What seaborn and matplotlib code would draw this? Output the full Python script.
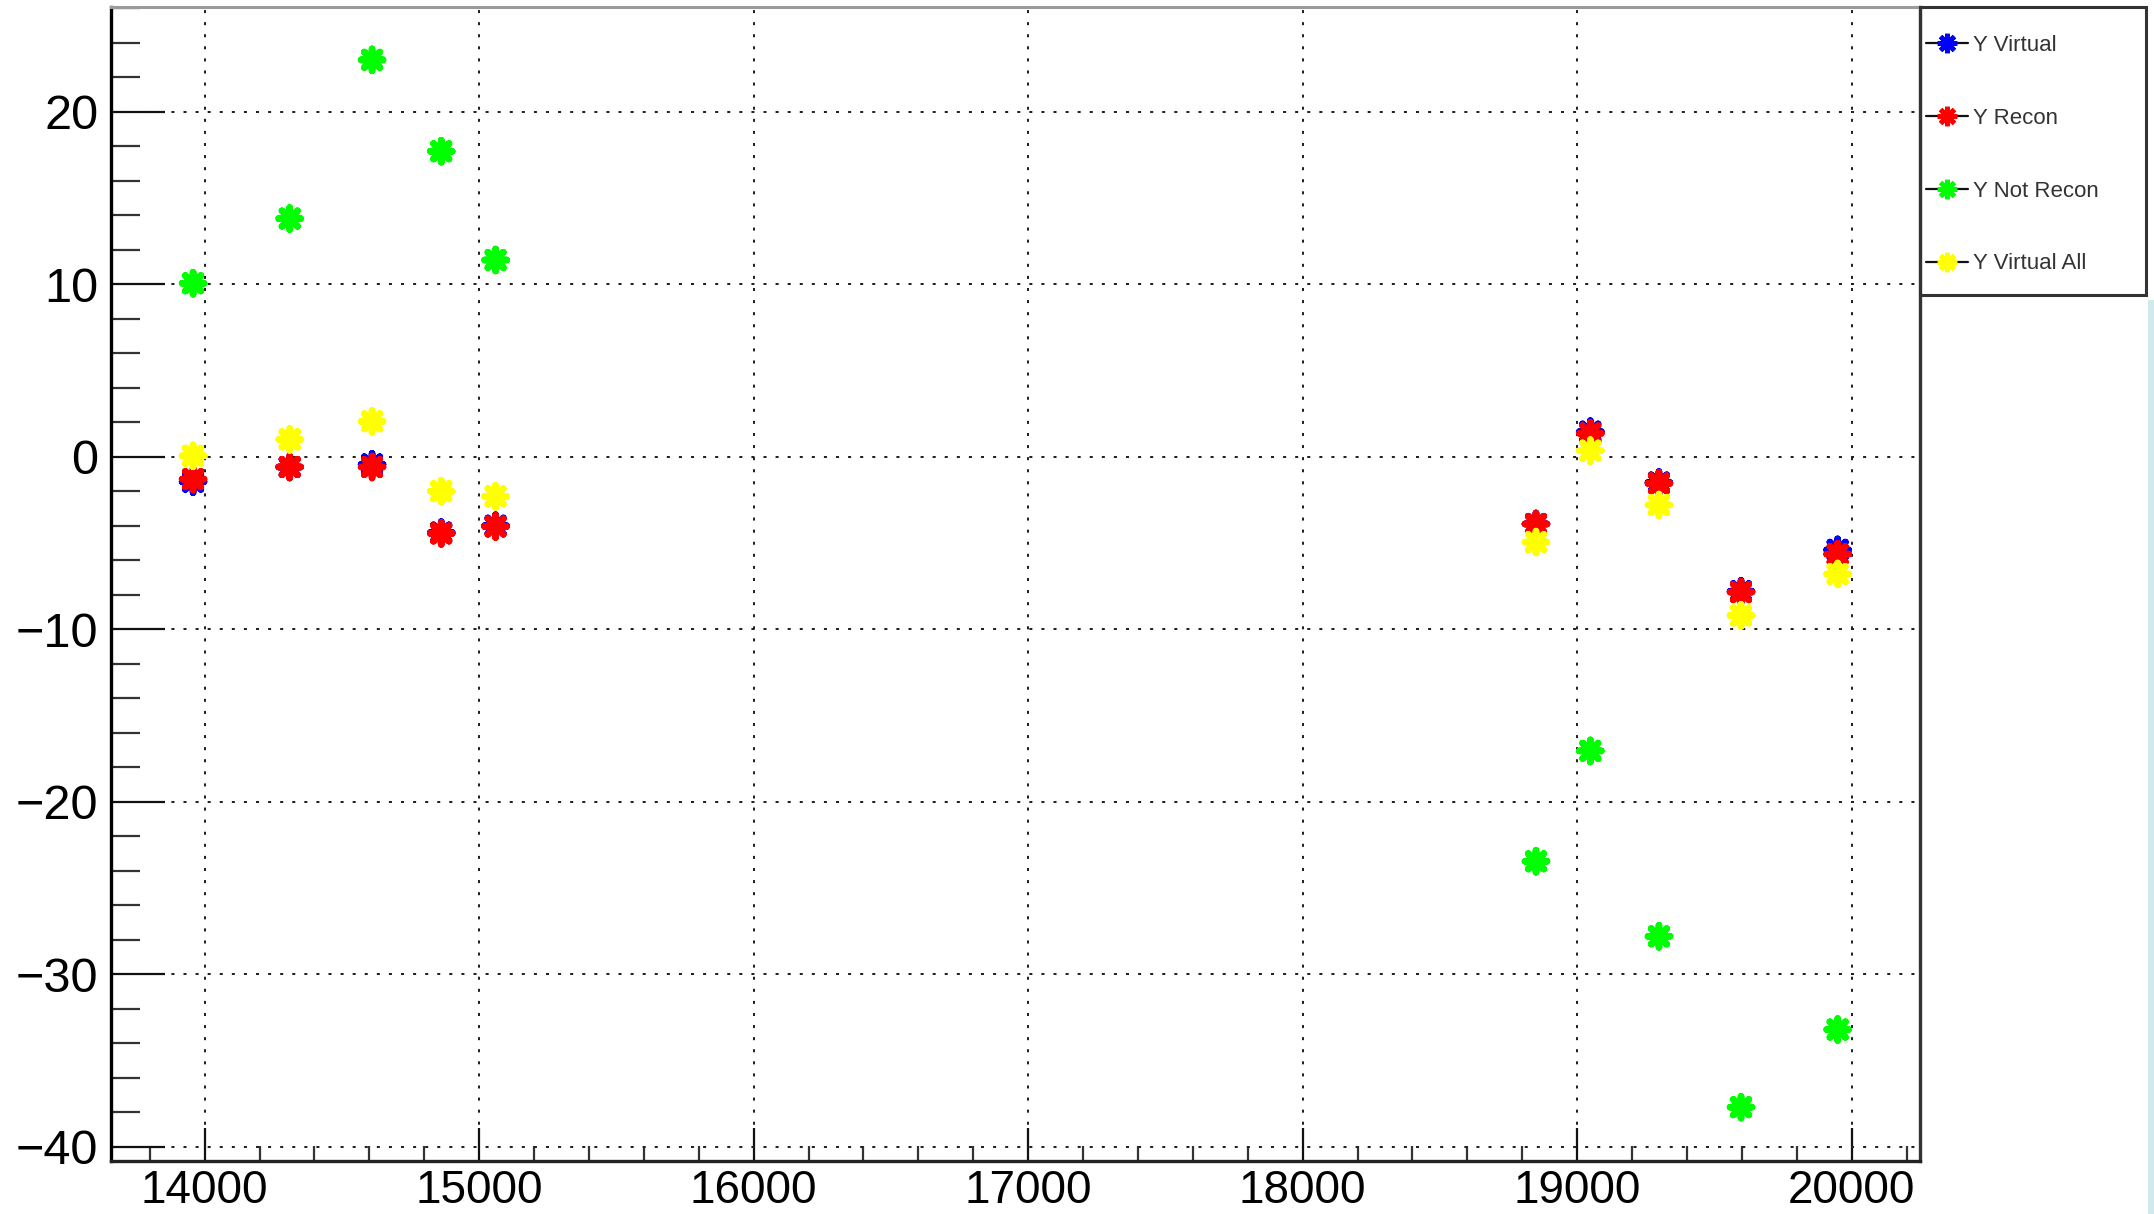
import numpy as np
import pandas as pd
import matplotlib
matplotlib.use("Agg")
import matplotlib.pyplot as plt
from matplotlib.lines import Line2D
from matplotlib.patches import Rectangle
from matplotlib.ticker import MultipleLocator
import seaborn as sns

# ---------------- data ----------------
x_vals = [13958, 14310, 14610, 14862, 15060, 18850, 19048, 19298, 19597, 19949]
y_virtual = [-1.45, -0.6, -0.45, -4.4, -4.0, -3.9, 1.45, -1.5, -7.8, -5.4]
y_recon = [-1.3, -0.6, -0.6, -4.45, -4.05, -3.9, 1.35, -1.55, -7.85, -5.65]
y_not_recon = [10.05, 13.8, 23.0, 17.7, 11.4, -23.45, -17.05, -27.8, -37.7, -33.2]
y_virtual_all = [0.05, 1.0, 2.05, -2.0, -2.3, -4.95, 0.35, -2.8, -9.2, -6.8]

series_names = ["Y Virtual", "Y Recon", "Y Not Recon", "Y Virtual All"]
series_colors = ["#0000ff", "#ff0000", "#00ff00", "#ffff00"]
x_ticks = [14000, 15000, 16000, 17000, 18000, 19000, 20000]
y_ticks = [-40, -30, -20, -10, 0, 10, 20]

df = pd.concat([
    pd.DataFrame({"x": x_vals, "y": vals, "series": name})
    for name, vals in zip(series_names, [y_virtual, y_recon, y_not_recon, y_virtual_all])
], ignore_index=True)

# ---------------- figure ----------------
W, H = 2154, 1214
DPI = 100
sns.set_style("white")
plt.rcParams["font.family"] = ["Liberation Sans", "DejaVu Sans"]

fig = plt.figure(figsize=(W / DPI, H / DPI), dpi=DPI, facecolor="white")
ax_l, ax_r, ax_t, ax_b = 111, 1920, 7, 1161
ax = fig.add_axes([ax_l / W, 1 - ax_b / H, (ax_r - ax_l) / W, (ax_b - ax_t) / H])

star = (8, 2, 0)
sns.scatterplot(data=df, x="x", y="y", hue="series", hue_order=series_names,
                palette=dict(zip(series_names, series_colors)),
                marker=star, s=250, linewidth=4.8, legend=False, ax=ax, zorder=3)

ax.set_xlim(13659, 20249)
ax.set_ylim(-40.82, 26.06)
ax.set_xlabel("")
ax.set_ylabel("")

ax.set_xticks(x_ticks)
ax.set_yticks(y_ticks)
ax.set_xticklabels([str(v) for v in x_ticks])
ax.set_yticklabels([str(v).replace("-", "\u2212") for v in y_ticks])
ax.xaxis.set_minor_locator(MultipleLocator(200))
ax.yaxis.set_minor_locator(MultipleLocator(2))

ax.tick_params(axis="y", which="major", direction="in", length=39, width=1.6,
               color="#111", labelsize=35, pad=9, left=True, right=False)
ax.tick_params(axis="y", which="minor", direction="in", length=21, width=1.6,
               color="#333", left=True, right=False)
ax.tick_params(axis="x", which="major", direction="in", length=24, width=1.6,
               color="#111", labelsize=33, pad=6, bottom=True, top=False)
ax.tick_params(axis="x", which="minor", direction="in", length=11, width=1.6,
               color="#333", bottom=True, top=False)
for lab in ax.get_xticklabels() + ax.get_yticklabels():
    lab.set_color("#000")

ax.grid(True, which="major", color="#222", linestyle=(0, (1.5, 4.5)), linewidth=1.45)
ax.set_axisbelow(True)

ax.spines["left"].set_color("#000")
ax.spines["left"].set_linewidth(2.4)
ax.spines["bottom"].set_color("#222")
ax.spines["bottom"].set_linewidth(2.4)
ax.spines["top"].set_color("#9a9a9a")
ax.spines["top"].set_linewidth(2.2)
ax.spines["right"].set_color("#333")
ax.spines["right"].set_linewidth(2.4)

# ---------------- legend ----------------
handles = [Line2D([0], [0], color="#111", lw=1.6, marker=star, markersize=14,
                  markeredgecolor=c, markerfacecolor=c, markeredgewidth=3.5)
           for c in series_colors]
leg = fig.legend(handles, series_names, loc="upper left",
                 bbox_to_anchor=(1926 / W, 1 - 35 / H), frameon=False,
                 fontsize=16, labelspacing=2.33, handlelength=1.9,
                 handletextpad=0.2, borderpad=0.0, borderaxespad=0.0)
for t in leg.get_texts():
    t.set_color("#333")

fig.add_artist(Rectangle((1920 / W, 1 - 295 / H), 226 / W, 288 / H,
                         transform=fig.transFigure, fill=False,
                         edgecolor="#333", linewidth=2.2))
fig.add_artist(Rectangle((2148 / W, 0), 6 / W, 1 - 300 / H,
                         transform=fig.transFigure, facecolor="#cfe9ec",
                         edgecolor="none"))

fig.savefig("out.png", dpi=DPI, facecolor="white")
